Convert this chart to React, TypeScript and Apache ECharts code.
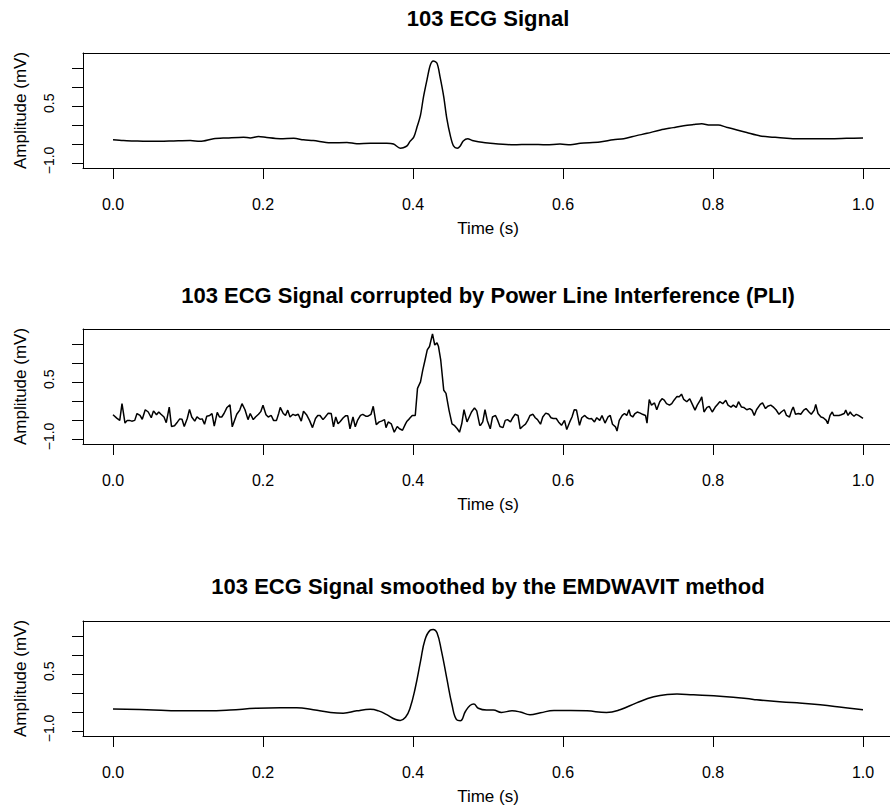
import React, { useEffect, useRef } from "react";
import * as echarts from "echarts";

const titles = [
  "103 ECG Signal",
  "103 ECG Signal corrupted by Power Line Interference (PLI)",
  "103 ECG Signal smoothed by the EMDWAVIT method",
];
const xTicks = [0, 0.2, 0.4, 0.6, 0.8, 1.0];
const yTicks = [-1.0, -0.5, 0.0, 0.5, 1.0, 1.5];
const yLabels = [-1.0, 0.5];

const cleanTime = [0, 0.014, 0.028, 0.045, 0.063, 0.081, 0.103, 0.116, 0.134, 0.152, 0.174, 0.183, 0.194, 0.205, 0.223, 0.241, 0.254, 0.267, 0.29, 0.312, 0.325, 0.343, 0.365, 0.374, 0.383, 0.387, 0.392, 0.396, 0.401, 0.405, 0.41, 0.414, 0.419, 0.423, 0.427, 0.432, 0.436, 0.441, 0.445, 0.45, 0.454, 0.459, 0.463, 0.467, 0.473, 0.479, 0.487, 0.503, 0.534, 0.556, 0.578, 0.596, 0.61, 0.623, 0.649, 0.667, 0.681, 0.698, 0.712, 0.73, 0.747, 0.761, 0.774, 0.785, 0.796, 0.807, 0.818, 0.832, 0.845, 0.863, 0.881, 0.894, 0.912, 0.934, 0.956, 0.978, 1.0];
const cleanAmp = [-0.38, -0.40, -0.41, -0.42, -0.42, -0.41, -0.40, -0.42, -0.35, -0.33, -0.31, -0.33, -0.29, -0.32, -0.35, -0.34, -0.38, -0.40, -0.46, -0.45, -0.48, -0.47, -0.47, -0.49, -0.60, -0.59, -0.54, -0.42, -0.31, -0.07, 0.27, 0.75, 1.23, 1.58, 1.69, 1.63, 1.28, 0.75, 0.19, -0.29, -0.54, -0.60, -0.54, -0.41, -0.35, -0.40, -0.43, -0.47, -0.51, -0.50, -0.51, -0.49, -0.51, -0.47, -0.44, -0.38, -0.35, -0.27, -0.21, -0.12, -0.06, -0.01, 0.02, 0.04, 0.01, 0.01, -0.05, -0.12, -0.19, -0.28, -0.31, -0.33, -0.35, -0.35, -0.35, -0.34, -0.33];

const noisyTime = [
  0.000, 0.005, 0.009, 0.012, 0.016, 0.019, 0.022, 0.025, 0.029, 0.032,
  0.036, 0.039, 0.043, 0.047, 0.051, 0.054, 0.058, 0.061, 0.064, 0.068,
  0.071, 0.075, 0.078, 0.082, 0.086, 0.089, 0.092, 0.095, 0.099, 0.102,
  0.105, 0.109, 0.112, 0.116, 0.119, 0.122, 0.125, 0.129, 0.132, 0.135,
  0.139, 0.142, 0.145, 0.148, 0.152, 0.156, 0.159, 0.162, 0.165, 0.169,
  0.172, 0.176, 0.180, 0.183, 0.187, 0.190, 0.194, 0.197, 0.200, 0.204,
  0.207, 0.211, 0.214, 0.218, 0.221, 0.223, 0.227, 0.230, 0.233, 0.236,
  0.240, 0.243, 0.247, 0.251, 0.254, 0.258, 0.262, 0.266, 0.270, 0.273,
  0.276, 0.280, 0.283, 0.287, 0.291, 0.294, 0.297, 0.300, 0.303, 0.307,
  0.310, 0.313, 0.316, 0.320, 0.323, 0.326, 0.330, 0.333, 0.337, 0.340,
  0.344, 0.347, 0.351, 0.355, 0.358, 0.362, 0.364, 0.367, 0.371, 0.375,
  0.379, 0.382, 0.386, 0.390, 0.392, 0.395, 0.399, 0.403, 0.406, 0.410,
  0.413, 0.416, 0.419, 0.422, 0.426, 0.429, 0.432, 0.434, 0.437, 0.441,
  0.444, 0.448, 0.452, 0.455, 0.459, 0.462, 0.465, 0.468, 0.472, 0.475,
  0.478, 0.482, 0.485, 0.489,
  0.490, 0.493, 0.496, 0.499, 0.503, 0.506, 0.510, 0.513, 0.516, 0.520,
  0.523, 0.526, 0.530, 0.533, 0.536, 0.540, 0.543, 0.546, 0.550, 0.553,
  0.556, 0.560, 0.563, 0.566, 0.570, 0.573, 0.577, 0.581, 0.584, 0.587,
  0.591, 0.594, 0.598, 0.602, 0.605, 0.609, 0.612, 0.615, 0.618, 0.622,
  0.625, 0.629, 0.632, 0.635, 0.638, 0.642, 0.645, 0.649, 0.652, 0.656,
  0.660, 0.663, 0.666, 0.670, 0.672, 0.675, 0.679, 0.682, 0.685, 0.688,
  0.690, 0.693, 0.696, 0.699, 0.703, 0.706, 0.710, 0.712, 0.715, 0.718,
  0.722, 0.725, 0.729, 0.732, 0.735, 0.738, 0.742, 0.745, 0.748, 0.752,
  0.755, 0.758, 0.761, 0.765, 0.769, 0.772, 0.776, 0.779, 0.783, 0.785,
  0.788, 0.792, 0.795, 0.799, 0.803, 0.806, 0.809, 0.813, 0.817, 0.820,
  0.824, 0.827, 0.831, 0.834, 0.838, 0.841, 0.845, 0.849, 0.852, 0.855,
  0.858, 0.863, 0.866, 0.870, 0.873, 0.877, 0.881, 0.884, 0.888, 0.891,
  0.895, 0.898, 0.902, 0.905, 0.907, 0.910, 0.914, 0.917, 0.921, 0.924,
  0.928, 0.931, 0.935, 0.937, 0.940, 0.944, 0.947, 0.951, 0.953, 0.956,
  0.959, 0.961, 0.964, 0.968, 0.971, 0.975, 0.977, 0.980, 0.983, 0.985,
  0.988, 0.991, 0.994, 0.997, 1.000,
];
const noisyAmp = [
  -0.35, -0.44, -0.50, -0.06, -0.57, -0.50, -0.50, -0.52, -0.50, -0.32,
  -0.37, -0.47, -0.22, -0.28, -0.43, -0.25, -0.35, -0.28, -0.34, -0.41,
  -0.56, -0.15, -0.66, -0.64, -0.54, -0.46, -0.47, -0.66, -0.45, -0.21,
  -0.41, -0.52, -0.41, -0.47, -0.46, -0.60, -0.39, -0.37, -0.32, -0.65,
  -0.29, -0.41, -0.41, -0.32, -0.16, -0.09, -0.67, -0.50, -0.34, -0.23,
  -0.06, -0.22, -0.48, -0.32, -0.48, -0.41, -0.34, -0.27, -0.10, -0.35,
  -0.41, -0.37, -0.50, -0.50, -0.31, -0.16, -0.32, -0.37, -0.23, -0.41,
  -0.34, -0.37, -0.34, -0.52, -0.26, -0.35, -0.50, -0.69, -0.45, -0.37,
  -0.37, -0.48, -0.41, -0.31, -0.32, -0.67, -0.41, -0.59, -0.53, -0.43,
  -0.38, -0.38, -0.72, -0.41, -0.67, -0.50, -0.37, -0.34, -0.39, -0.39,
  -0.34, -0.13, -0.61, -0.54, -0.52, -0.48, -0.69, -0.54, -0.59, -0.81,
  -0.66, -0.72, -0.76, -0.59, -0.52, -0.46, -0.37, -0.37, 0.34, 0.51,
  0.82, 1.08, 1.35, 1.44, 1.77, 1.48, 1.54, 1.44, 1.08, 0.29,
  0.21, -0.23, -0.59, -0.63, -0.72, -0.81, -0.59, -0.22, -0.54, -0.41,
  -0.28, -0.17, -0.25, -0.63,
  -0.63, -0.54, -0.22, -0.50, -0.72, -0.41, -0.37, -0.50, -0.66, -0.69,
  -0.50, -0.48, -0.54, -0.43, -0.34, -0.37, -0.72, -0.66, -0.60, -0.50,
  -0.37, -0.34, -0.43, -0.48, -0.60, -0.41, -0.31, -0.34, -0.43, -0.45,
  -0.45, -0.54, -0.63, -0.50, -0.74, -0.54, -0.41, -0.22, -0.23, -0.63,
  -0.43, -0.37, -0.43, -0.46, -0.45, -0.54, -0.43, -0.50, -0.37, -0.57,
  -0.41, -0.37, -0.60, -0.67, -0.78, -0.50, -0.37, -0.32, -0.37, -0.22,
  -0.37, -0.41, -0.32, -0.28, -0.31, -0.34, -0.37, -0.57, 0.05, -0.10,
  -0.04, -0.22, -0.01, 0.07, 0.03, -0.06, -0.10, -0.06, 0.03, 0.13,
  0.12, 0.19, 0.05, -0.01, 0.07, -0.06, -0.23, -0.10, 0.03, 0.12,
  -0.28, -0.16, -0.13, -0.28, -0.15, -0.08, -0.01, -0.06, 0.03, -0.10,
  -0.15, -0.10, -0.16, -0.01, -0.15, -0.16, -0.22, -0.19, -0.23, -0.37,
  -0.22, -0.08, -0.04, -0.19, -0.13, -0.10, -0.16, -0.22, -0.34, -0.28,
  -0.22, -0.37, -0.41, -0.23, -0.15, -0.34, -0.32, -0.34, -0.23, -0.19,
  -0.28, -0.34, -0.23, -0.08, -0.32, -0.41, -0.43, -0.50, -0.59, -0.37,
  -0.28, -0.37, -0.37, -0.37, -0.35, -0.32, -0.23, -0.37, -0.28, -0.34,
  -0.39, -0.34, -0.37, -0.41, -0.45,
];

const smoothTime = [0, 0.045, 0.09, 0.125, 0.156, 0.192, 0.223, 0.245, 0.267, 0.29, 0.307, 0.325, 0.343, 0.354, 0.365, 0.376, 0.383, 0.39, 0.396, 0.403, 0.41, 0.416, 0.423, 0.427, 0.432, 0.438, 0.445, 0.452, 0.458, 0.463, 0.47, 0.476, 0.481, 0.487, 0.498, 0.507, 0.518, 0.532, 0.543, 0.556, 0.57, 0.588, 0.61, 0.632, 0.658, 0.676, 0.698, 0.721, 0.739, 0.752, 0.774, 0.801, 0.827, 0.854, 0.881, 0.912, 0.943, 0.974, 1.0];
const smoothAmp = [-0.41, -0.43, -0.46, -0.46, -0.44, -0.39, -0.38, -0.38, -0.43, -0.50, -0.52, -0.46, -0.42, -0.46, -0.56, -0.68, -0.71, -0.63, -0.39, 0.14, 0.84, 1.41, 1.66, 1.68, 1.59, 1.11, 0.40, -0.30, -0.69, -0.72, -0.47, -0.32, -0.28, -0.39, -0.44, -0.44, -0.50, -0.46, -0.49, -0.56, -0.51, -0.45, -0.45, -0.46, -0.50, -0.43, -0.25, -0.09, -0.03, -0.02, -0.04, -0.06, -0.10, -0.16, -0.21, -0.25, -0.30, -0.37, -0.43];

const FONT = '"Liberation Sans", Arial, Helvetica, sans-serif';
const gridTops = [53, 329, 621];
const titleY = [18, 295, 586];
const X_MIN = -0.04;
const X_MAX = 1.04;

const fmt = (v: number) => (v < 0 ? "\u2212" : "") + Math.abs(v).toFixed(1);
const blackLine = { color: "#000", width: 1 };

export default function App() {
  const ref = useRef<HTMLDivElement>(null);
  useEffect(() => {
    if (!ref.current) return;
    const chart = echarts.init(ref.current, null, { renderer: "svg" });
    const panels = [
      { t: cleanTime, a: cleanAmp, smooth: 0.3 },
      { t: noisyTime, a: noisyAmp, smooth: false },
      { t: smoothTime, a: smoothAmp, smooth: 0.45 },
    ];
    const bottomAxes = gridTops.map((_, i) => ({
      type: "value",
      gridIndex: i,
      min: X_MIN,
      max: X_MAX,
      position: "bottom",
      axisLine: { show: true, onZero: false, lineStyle: blackLine },
      axisTick: { show: true, length: 11, customValues: xTicks, lineStyle: blackLine },
      axisLabel: { customValues: xTicks, formatter: fmt, color: "#000", fontSize: 16, margin: 28, fontFamily: FONT },
      splitLine: { show: false },
      name: "Time (s)",
      nameLocation: "middle",
      nameGap: 52,
      nameTextStyle: { color: "#000", fontSize: 17, fontFamily: FONT },
    }));
    const topAxes = gridTops.map((_, i) => ({
      type: "value",
      gridIndex: i,
      min: X_MIN,
      max: X_MAX,
      position: "top",
      axisLine: { show: true, onZero: false, lineStyle: blackLine },
      axisTick: { show: false },
      axisLabel: { show: false },
      splitLine: { show: false },
    }));
    const option: any = {
      animation: false,
      backgroundColor: "#ffffff",
      textStyle: { fontFamily: FONT, color: "#000" },
      graphic: titles.map((t, i) => ({
        type: "text",
        x: 488,
        y: titleY[i],
        style: {
          text: t,
          fill: "#000",
          font: `bold 22px ${FONT}`,
          textAlign: "center",
          textVerticalAlign: "middle",
        },
      })),
      grid: gridTops.map((top) => ({
        left: 83,
        top,
        width: 810,
        height: 115,
        show: false,
        containLabel: false,
        outerBoundsMode: "none",
      })),
      xAxis: [...bottomAxes, ...topAxes],
      yAxis: gridTops.map((_, i) => ({
        type: "value",
        gridIndex: i,
        min: -1.12,
        max: 1.9,
        position: "left",
        axisLine: { show: true, onZero: false, lineStyle: blackLine },
        axisTick: { show: true, length: 11, customValues: yTicks, lineStyle: blackLine },
        axisLabel: {
          customValues: yLabels,
          formatter: fmt,
          color: "#000",
          fontSize: 14,
          rotate: 90,
          align: "center",
          verticalAlign: "bottom",
          margin: 27,
          padding: [0, 0, 0, 6],
          fontFamily: FONT,
        },
        splitLine: { show: false },
        name: "Amplitude (mV)",
        nameLocation: "middle",
        nameGap: 54,
        nameTextStyle: { color: "#000", fontSize: 17, fontFamily: FONT },
      })),
      series: panels.map((p, i) => ({
        type: "line",
        xAxisIndex: i,
        yAxisIndex: i,
        data: p.t.map((t, k) => [t, p.a[k]]),
        showSymbol: false,
        smooth: p.smooth,
        lineStyle: { color: "#000", width: 1.5 },
        silent: true,
      })),
    };
    chart.setOption(option);
    return () => chart.dispose();
  }, []);
  return (
    <div
      ref={ref}
      style={{ position: "absolute", left: 0, top: 0, width: 890, height: 808, background: "#fff" }}
    />
  );
}
